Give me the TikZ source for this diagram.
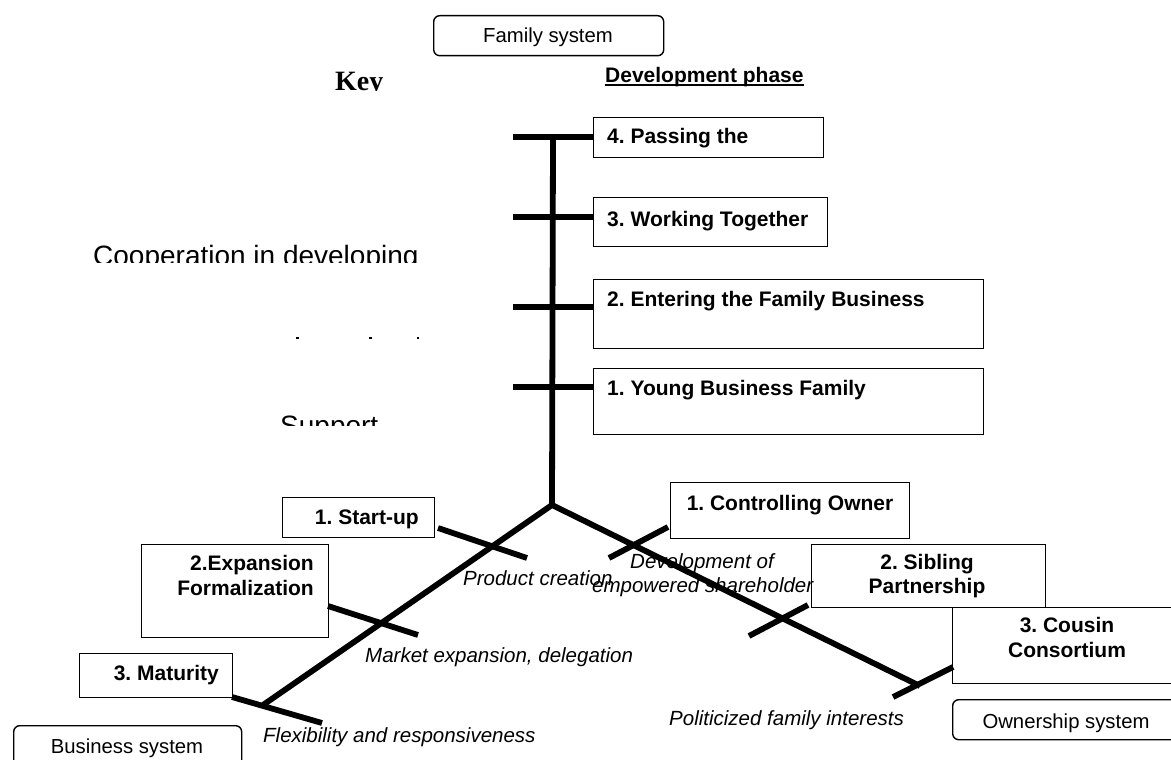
\documentclass[tikz,border=0pt]{standalone}
\usepackage{fontspec}
\setmainfont{Liberation Sans}
\newfontfamily\keyfont{Liberation Serif}
\usetikzlibrary{calc}
\begin{document}
\frenchspacing
\begin{tikzpicture}[x=1pt,y=-1pt,
  stem/.style={line width=5.8pt},
  tickline/.style={line width=5.8pt},
  phasebox/.style={draw, line width=1.4pt, rectangle, inner sep=0pt, anchor=north west},
  sysbox/.style={draw, line width=1.4pt, rounded corners=6pt, inner sep=0pt, anchor=north west},
  lbl/.style={font=\fontsize{21}{25}\selectfont\bfseries, inner sep=0pt},
  itl/.style={font=\fontsize{20.5}{24}\selectfont\itshape, inner sep=0pt},
  reg/.style={font=\fontsize{20.3}{24}\selectfont, inner sep=0pt},
  big/.style={font=\fontsize{28}{32}\selectfont, inner sep=0pt, anchor=base west},
]
\clip (0,0) rectangle (1171,760);
\fill[white] (0,0) rectangle (1171,760);

% system boxes
\node[sysbox, minimum width=230pt, minimum height=40pt] (fam) at (433,15) {};
\node[reg, anchor=base] (famt) at (548,43) {Family system};
\node[sysbox, minimum width=228pt, minimum height=50pt] (bus) at (13,725) {};
\node[reg, anchor=base] (bust) at (127,753) {Business system};
\node[sysbox, minimum width=238pt, minimum height=40pt] (own) at (952,699) {};
\node[reg, anchor=base] (ownt) at (1066,728) {Ownership system};

% key and clipped texts
\begin{scope}
\clip (300,60) rectangle (420,90.5);
\node[font=\keyfont\bfseries\fontsize{28}{32}\selectfont, inner sep=0pt, anchor=base west] (key) at (335,91) {Key};
\end{scope}
\begin{scope}
\clip (80,230) rectangle (440,262);
\node[big] (coop) at (93,265) {Cooperation in developing};
\end{scope}
\begin{scope}
\clip (260,400) rectangle (400,425);
\node[big] (supp) at (280,435) {Support};
\end{scope}
\fill (296,337) rectangle (299,339);
\fill (369,337) rectangle (372,339);
\fill (417,337) rectangle (419,339);

% development phase
\node[lbl, anchor=base west] (dev) at (605,82) {Development phase};
\draw[line width=1.4pt] ($(dev.base west)+(0,3)$) -- ($(dev.base east)+(0,3)$);

% family phase boxes
\node[phasebox, minimum width=230pt, minimum height=40pt] (b4) at (593,117) {};
\node[phasebox, minimum width=234pt, minimum height=49pt] (b3) at (593,197) {};
\node[phasebox, minimum width=390pt, minimum height=69pt] (b2) at (593,279) {};
\node[phasebox, minimum width=390pt, minimum height=66pt] (b1) at (593,368) {};
\node[lbl, anchor=base west] (b4t) at (607,143) {4. Passing the};
\node[lbl, anchor=base west] (b3t) at (607,226) {3. Working Together};
\node[lbl, anchor=base west] (b2t) at (607,306) {2. Entering the Family Business};
\node[lbl, anchor=base west] (b1t) at (607,395) {1. Young Business Family};

% trunk and ticks
\coordinate (top) at (553,137);
\coordinate (J) at (552,505);
\coordinate (Lend) at (263,705);
\coordinate (Rend) at (920,686);
\coordinate (t4) at (513,137);
\coordinate (t3) at (513,217);
\coordinate (t2) at (513,307);
\coordinate (t1) at (513,387);
\draw[stem] (top) -- (J);
\draw[tickline] (t4) -- (t4 -| b4.west);
\draw[tickline] (t3) -- (t3 -| b3.west);
\draw[tickline] (t2) -- (t2 -| b2.west);
\draw[tickline] (t1) -- (t1 -| b1.west);
\draw[stem, line join=round] (Lend) -- (J) -- (Rend);

% business phases
\node[phasebox, minimum width=152pt, minimum height=40pt] (s1) at (282,497) {};
\node[phasebox, minimum width=187pt, minimum height=93pt] (s2) at (141,544) {};
\node[phasebox, minimum width=153pt, minimum height=44pt] (s3) at (79,653) {};
\node[lbl, anchor=base east] (s1t) at (419,524) {1. Start-up};
\node[lbl, anchor=base east] (s2t) at (314,570) {2.Expansion};
\node[lbl, anchor=base east] (s2u) at (314,595) {Formalization};
\node[lbl, anchor=base east] (s3t) at (219,680) {3. Maturity};
\coordinate (sa1) at (438,528); \coordinate (sb1) at (527,558);
\coordinate (sa2) at (328,606); \coordinate (sb2) at (418,635);
\coordinate (sa3) at (232,697); \coordinate (sb3) at (322,723);
\draw[tickline] (sa1) -- (sb1);
\draw[tickline] (sa2) -- (sb2);
\draw[tickline] (sa3) -- (sb3);
\node[itl, anchor=base west] (p1) at (463,585) {Product creation};
\node[itl, anchor=base west] (p2) at (365,662) {Market expansion, delegation};
\node[itl, anchor=base west] (p3) at (263,742) {Flexibility and responsiveness};

% ownership phases
\node[phasebox, minimum width=239pt, minimum height=56pt] (o1) at (670,482) {};
\node[phasebox, minimum width=234pt, minimum height=63pt] (o2) at (811,544) {};
\node[phasebox, minimum width=240pt, minimum height=76pt] (o3) at (952,607) {};
\node[lbl, anchor=base] (o1t) at (790,510) {1. Controlling Owner};
\node[lbl, anchor=base] (o2t) at (927,569) {2. Sibling};
\node[lbl, anchor=base] (o2u) at (927,593) {Partnership};
\node[lbl, anchor=base] (o3t) at (1067,632) {3. Cousin};
\node[lbl, anchor=base] (o3u) at (1067,657) {Consortium};
\coordinate (oa1) at (609,558); \coordinate (ob1) at (668,527);
\coordinate (oa2) at (749,636); \coordinate (ob2) at (808,605);
\coordinate (oa3) at (893,697); \coordinate (ob3) at (953,667);
\draw[tickline] (oa1) -- (ob1);
\draw[tickline] (oa2) -- (ob2);
\draw[tickline] (oa3) -- (ob3);
\node[itl, anchor=base west] (q1) at (630,568) {Development of};
\node[itl, anchor=base west] (q1b) at (592,592) {empowered shareholder};
\node[itl, anchor=base west] (q3) at (669,725) {Politicized family interests};
\end{tikzpicture}
\end{document}
